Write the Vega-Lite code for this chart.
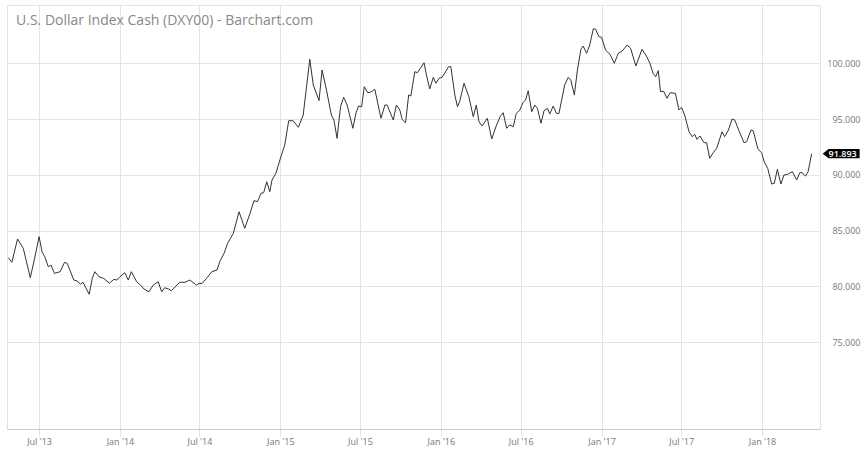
{
  "$schema": "https://vega.github.io/schema/vega-lite/v6.json",
  "width": 813,
  "height": 424,
  "autosize": {"type": "none"},
  "padding": {"left": 7, "top": 5, "right": 47, "bottom": 21},
  "background": "white",
  "config": {"view": {"stroke": "#e3e3e3", "strokeWidth": 1}, "font": "Open Sans"},
  "title": {"text": "U.S. Dollar Index Cash (DXY00) - Barchart.com", "anchor": "start", "frame": "group", "orient": "top", "offset": -34, "dx": 9, "fontSize": 14, "fontWeight": "normal", "color": "#888888", "font": "Open Sans", "baseline": "alphabetic"},
  "data": {"values": [
    {"date": "2013-04-22", "value": 82.56}, {"date": "2013-04-30", "value": 82.15}, {"date": "2013-05-13", "value": 84.24}, {"date": "2013-05-26", "value": 83.41},
    {"date": "2013-06-11", "value": 80.77}, {"date": "2013-06-21", "value": 82.53}, {"date": "2013-07-01", "value": 84.45}, {"date": "2013-07-08", "value": 83.05},
    {"date": "2013-07-14", "value": 82.65}, {"date": "2013-07-22", "value": 81.75}, {"date": "2013-07-28", "value": 81.90}, {"date": "2013-08-05", "value": 81.16},
    {"date": "2013-08-18", "value": 81.31}, {"date": "2013-08-28", "value": 82.15}, {"date": "2013-09-03", "value": 82.06}, {"date": "2013-09-18", "value": 80.56},
    {"date": "2013-09-26", "value": 80.47}, {"date": "2013-10-03", "value": 80.18}, {"date": "2013-10-09", "value": 80.36}, {"date": "2013-10-23", "value": 79.28},
    {"date": "2013-10-30", "value": 80.71}, {"date": "2013-11-05", "value": 81.31}, {"date": "2013-11-14", "value": 80.86}, {"date": "2013-11-25", "value": 80.71},
    {"date": "2013-12-08", "value": 80.27}, {"date": "2013-12-18", "value": 80.62}, {"date": "2013-12-25", "value": 80.56}, {"date": "2014-01-01", "value": 80.86},
    {"date": "2014-01-12", "value": 81.22}, {"date": "2014-01-20", "value": 80.56}, {"date": "2014-01-27", "value": 81.31}, {"date": "2014-02-08", "value": 80.41},
    {"date": "2014-02-15", "value": 80.18}, {"date": "2014-02-25", "value": 79.75}, {"date": "2014-03-08", "value": 79.51}, {"date": "2014-03-18", "value": 80.11},
    {"date": "2014-03-29", "value": 80.41}, {"date": "2014-04-06", "value": 79.51}, {"date": "2014-04-13", "value": 79.87}, {"date": "2014-04-22", "value": 79.75},
    {"date": "2014-04-28", "value": 79.60}, {"date": "2014-05-17", "value": 80.36}, {"date": "2014-05-29", "value": 80.36}, {"date": "2014-06-09", "value": 80.56},
    {"date": "2014-06-24", "value": 80.11}, {"date": "2014-06-30", "value": 80.26}, {"date": "2014-07-07", "value": 80.26}, {"date": "2014-07-17", "value": 80.71},
    {"date": "2014-07-29", "value": 81.31}, {"date": "2014-08-10", "value": 81.46}, {"date": "2014-08-16", "value": 82.20}, {"date": "2014-08-26", "value": 82.96},
    {"date": "2014-09-03", "value": 83.85}, {"date": "2014-09-16", "value": 84.75}, {"date": "2014-09-29", "value": 86.69}, {"date": "2014-10-12", "value": 85.20},
    {"date": "2014-10-24", "value": 86.54}, {"date": "2014-11-02", "value": 87.68}, {"date": "2014-11-10", "value": 87.59}, {"date": "2014-11-18", "value": 88.34},
    {"date": "2014-11-24", "value": 88.39}, {"date": "2014-12-01", "value": 89.38}, {"date": "2014-12-08", "value": 88.48}, {"date": "2014-12-13", "value": 89.53},
    {"date": "2014-12-22", "value": 90.13}, {"date": "2014-12-31", "value": 91.33}, {"date": "2015-01-11", "value": 92.67}, {"date": "2015-01-20", "value": 94.85},
    {"date": "2015-01-30", "value": 94.85}, {"date": "2015-02-11", "value": 94.26}, {"date": "2015-02-22", "value": 95.36}, {"date": "2015-03-09", "value": 100.36},
    {"date": "2015-03-17", "value": 98.05}, {"date": "2015-03-30", "value": 96.65}, {"date": "2015-04-06", "value": 99.40}, {"date": "2015-04-16", "value": 97.60},
    {"date": "2015-04-27", "value": 95.36}, {"date": "2015-05-03", "value": 94.91}, {"date": "2015-05-10", "value": 93.27}, {"date": "2015-05-18", "value": 96.11},
    {"date": "2015-05-25", "value": 96.95}, {"date": "2015-06-02", "value": 96.26}, {"date": "2015-06-15", "value": 94.17}, {"date": "2015-06-22", "value": 95.51},
    {"date": "2015-06-28", "value": 96.17}, {"date": "2015-07-05", "value": 96.11}, {"date": "2015-07-11", "value": 97.90}, {"date": "2015-07-19", "value": 97.36},
    {"date": "2015-07-27", "value": 97.45}, {"date": "2015-08-04", "value": 97.67}, {"date": "2015-08-18", "value": 95.07}, {"date": "2015-08-27", "value": 96.26},
    {"date": "2015-09-01", "value": 96.26}, {"date": "2015-09-15", "value": 94.91}, {"date": "2015-09-22", "value": 96.26}, {"date": "2015-09-30", "value": 95.81},
    {"date": "2015-10-05", "value": 94.98}, {"date": "2015-10-13", "value": 94.67}, {"date": "2015-10-20", "value": 97.16}, {"date": "2015-10-25", "value": 97.07},
    {"date": "2015-11-03", "value": 99.25}, {"date": "2015-11-09", "value": 99.16}, {"date": "2015-11-24", "value": 100.05}, {"date": "2015-11-30", "value": 98.86},
    {"date": "2015-12-07", "value": 97.70}, {"date": "2015-12-15", "value": 98.74}, {"date": "2015-12-21", "value": 98.21}, {"date": "2015-12-28", "value": 98.65},
    {"date": "2016-01-04", "value": 98.74}, {"date": "2016-01-19", "value": 99.70}, {"date": "2016-01-24", "value": 99.70}, {"date": "2016-02-02", "value": 97.16},
    {"date": "2016-02-08", "value": 96.11}, {"date": "2016-02-13", "value": 96.56}, {"date": "2016-02-23", "value": 98.21}, {"date": "2016-03-05", "value": 97.00},
    {"date": "2016-03-15", "value": 95.21}, {"date": "2016-03-22", "value": 96.26}, {"date": "2016-03-28", "value": 94.76}, {"date": "2016-04-04", "value": 94.38},
    {"date": "2016-04-16", "value": 95.07}, {"date": "2016-04-26", "value": 93.21}, {"date": "2016-05-07", "value": 94.47}, {"date": "2016-05-15", "value": 95.21},
    {"date": "2016-05-22", "value": 95.57}, {"date": "2016-05-30", "value": 94.17}, {"date": "2016-06-06", "value": 94.47}, {"date": "2016-06-14", "value": 94.31},
    {"date": "2016-06-21", "value": 95.51}, {"date": "2016-06-29", "value": 95.81}, {"date": "2016-07-06", "value": 96.47}, {"date": "2016-07-12", "value": 96.71},
    {"date": "2016-07-18", "value": 97.54}, {"date": "2016-07-26", "value": 95.66}, {"date": "2016-08-02", "value": 96.26}, {"date": "2016-08-08", "value": 95.96},
    {"date": "2016-08-16", "value": 94.62}, {"date": "2016-08-23", "value": 95.75}, {"date": "2016-08-31", "value": 95.96}, {"date": "2016-09-05", "value": 95.45},
    {"date": "2016-09-13", "value": 96.17}, {"date": "2016-09-20", "value": 95.51}, {"date": "2016-09-26", "value": 95.51}, {"date": "2016-10-09", "value": 98.05},
    {"date": "2016-10-17", "value": 98.74}, {"date": "2016-10-23", "value": 98.50}, {"date": "2016-10-31", "value": 97.16}, {"date": "2016-11-07", "value": 99.40},
    {"date": "2016-11-15", "value": 101.26}, {"date": "2016-11-20", "value": 101.55}, {"date": "2016-11-28", "value": 100.90}, {"date": "2016-12-05", "value": 101.64},
    {"date": "2016-12-13", "value": 103.08}, {"date": "2016-12-18", "value": 103.08}, {"date": "2016-12-26", "value": 102.39}, {"date": "2017-01-01", "value": 102.33},
    {"date": "2017-01-10", "value": 101.19}, {"date": "2017-01-20", "value": 100.81}, {"date": "2017-01-30", "value": 100.00}, {"date": "2017-02-08", "value": 100.90},
    {"date": "2017-02-17", "value": 101.10}, {"date": "2017-02-28", "value": 101.64}, {"date": "2017-03-08", "value": 101.35}, {"date": "2017-03-20", "value": 99.76},
    {"date": "2017-04-03", "value": 101.26}, {"date": "2017-04-13", "value": 100.65}, {"date": "2017-04-21", "value": 100.00}, {"date": "2017-04-28", "value": 99.10},
    {"date": "2017-05-04", "value": 98.80}, {"date": "2017-05-10", "value": 99.34}, {"date": "2017-05-15", "value": 97.45}, {"date": "2017-05-22", "value": 97.50},
    {"date": "2017-05-30", "value": 96.86}, {"date": "2017-06-06", "value": 97.36}, {"date": "2017-06-18", "value": 97.31}, {"date": "2017-06-26", "value": 95.81},
    {"date": "2017-07-02", "value": 96.05}, {"date": "2017-07-09", "value": 95.36}, {"date": "2017-07-19", "value": 93.86}, {"date": "2017-07-26", "value": 93.42},
    {"date": "2017-08-01", "value": 93.63}, {"date": "2017-08-06", "value": 93.18}, {"date": "2017-08-13", "value": 93.48}, {"date": "2017-08-22", "value": 92.88},
    {"date": "2017-08-28", "value": 92.88}, {"date": "2017-09-04", "value": 91.48}, {"date": "2017-09-12", "value": 91.98}, {"date": "2017-09-20", "value": 92.38},
    {"date": "2017-10-02", "value": 93.86}, {"date": "2017-10-08", "value": 93.42}, {"date": "2017-10-16", "value": 93.95}, {"date": "2017-10-25", "value": 95.00},
    {"date": "2017-10-31", "value": 94.91}, {"date": "2017-11-12", "value": 93.72}, {"date": "2017-11-21", "value": 92.88}, {"date": "2017-11-27", "value": 92.97},
    {"date": "2017-12-07", "value": 94.02}, {"date": "2017-12-12", "value": 93.95}, {"date": "2017-12-23", "value": 92.29}, {"date": "2017-12-31", "value": 91.98},
    {"date": "2018-01-06", "value": 91.17}, {"date": "2018-01-14", "value": 90.58}, {"date": "2018-01-23", "value": 89.17}, {"date": "2018-01-29", "value": 89.24},
    {"date": "2018-02-05", "value": 90.49}, {"date": "2018-02-13", "value": 89.17}, {"date": "2018-02-20", "value": 89.98}, {"date": "2018-02-28", "value": 90.04},
    {"date": "2018-03-11", "value": 90.28}, {"date": "2018-03-21", "value": 89.53}, {"date": "2018-03-28", "value": 90.19}, {"date": "2018-04-02", "value": 90.19},
    {"date": "2018-04-10", "value": 89.89}, {"date": "2018-04-16", "value": 90.28}, {"date": "2018-04-24", "value": 91.893}
  ]},
  "encoding": {
    "x": {
      "field": "date", "type": "temporal",
      "scale": {"type": "utc", "domain": [{"year": 2013, "month": 4, "date": 19, "utc": true}, {"year": 2018, "month": 5, "date": 13, "utc": true}]},
      "axis": {
        "title": null,
        "values": [
          {"year": 2013, "month": 7, "date": 1, "utc": true}, {"year": 2014, "month": 1, "date": 1, "utc": true},
          {"year": 2014, "month": 7, "date": 1, "utc": true}, {"year": 2015, "month": 1, "date": 1, "utc": true},
          {"year": 2015, "month": 7, "date": 1, "utc": true}, {"year": 2016, "month": 1, "date": 1, "utc": true},
          {"year": 2016, "month": 7, "date": 1, "utc": true}, {"year": 2017, "month": 1, "date": 1, "utc": true},
          {"year": 2017, "month": 7, "date": 1, "utc": true}, {"year": 2018, "month": 1, "date": 1, "utc": true}
        ],
        "format": "%b '%y",
        "grid": true, "gridColor": "#e3e3e3", "gridWidth": 1,
        "ticks": true, "tickColor": "#e3e3e3", "tickSize": 7,
        "domain": true, "domainColor": "#cccccc",
        "labelColor": "#777777", "labelFontSize": 9, "labelFont": "Open Sans", "labelPadding": 1
      }
    },
    "y": {
      "field": "value", "type": "quantitative",
      "scale": {"domain": [67.2, 105.23], "nice": false, "zero": false},
      "axis": {
        "orient": "right", "title": null,
        "values": [75, 80, 85, 90, 95, 100], "format": ".3f",
        "grid": true, "gridColor": "#e3e3e3", "gridWidth": 1,
        "domain": false, "ticks": false, "tickSize": 0,
        "labelPadding": 40, "labelAlign": "right", "labelBaseline": "middle",
        "labelColor": "#777777", "labelFontSize": 9, "labelFont": "Open Sans"
      }
    }
  },
  "layer": [
    {"mark": {"type": "line", "color": "#333333", "strokeWidth": 1, "interpolate": "linear"}},
    {
      "transform": [{"filter": "datum.value == 91.893"}],
      "mark": {"type": "point", "shape": "M-1,0L-0.68,-0.25L1,-0.25L1,0.25L-0.68,0.25Z", "size": 1369, "filled": true, "color": "#000000", "opacity": 1, "strokeWidth": 0, "xOffset": 29.5}
    },
    {
      "transform": [{"filter": "datum.value == 91.893"}],
      "mark": {"type": "text", "color": "#ffffff", "fontSize": 9, "fontWeight": 600, "font": "Open Sans", "align": "center", "baseline": "middle", "xOffset": 31},
      "encoding": {"text": {"field": "value", "type": "quantitative", "format": ".3f"}}
    }
  ]
}
